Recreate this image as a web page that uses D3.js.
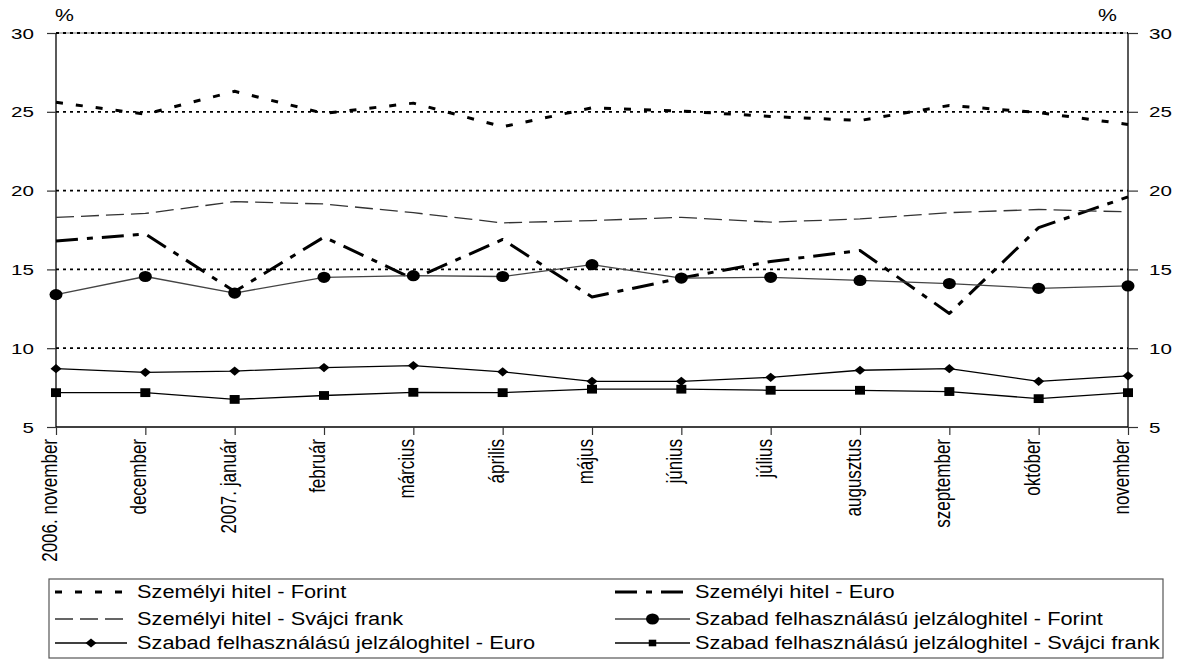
<!DOCTYPE html>
<html><head><meta charset="utf-8">
<script src="https://cdn.jsdelivr.net/npm/d3@7"></script>
<style>
body{margin:0;background:#fff}
svg{display:block}
text{font-family:"Liberation Sans",Arial,sans-serif;fill:#000}
</style>
</head><body>
<svg id="c" width="1184" height="659"></svg>
<script>
// ---- data ----
const categories = ["2006. november","december","2007. január","február","március","április","május","június","július","augusztus","szeptember","október","november"];
const szemelyiForint = [25.6, 24.85, 26.3, 24.9, 25.55, 24.05, 25.25, 25.05, 24.7, 24.45, 25.4, 24.95, 24.2];
const szemelyiEuro   = [16.8, 17.25, 13.6, 17.05, 14.4, 16.9, 13.25, 14.45, 15.5, 16.2, 12.2, 17.65, 19.6];
const szemelyiFrank  = [18.3, 18.55, 19.3, 19.15, 18.6, 17.95, 18.1, 18.3, 18.0, 18.2, 18.6, 18.8, 18.65];
const jelzalogForint = [13.4, 14.55, 13.5, 14.5, 14.6, 14.55, 15.3, 14.45, 14.5, 14.3, 14.1, 13.8, 13.95];
const jelzalogEuro   = [8.7, 8.47, 8.55, 8.77, 8.9, 8.5, 7.9, 7.9, 8.15, 8.6, 8.7, 7.9, 8.25];
const jelzalogFrank  = [7.18, 7.18, 6.75, 7.0, 7.2, 7.18, 7.4, 7.4, 7.33, 7.33, 7.25, 6.8, 7.18];
const yTicks = [5, 10, 15, 20, 25, 30];
const gridValues = [10, 15, 20, 25, 30];
const seriesNames = [
  "Személyi hitel - Forint",
  "Személyi hitel - Euro",
  "Személyi hitel - Svájci frank",
  "Szabad felhasználású jelzáloghitel - Forint",
  "Szabad felhasználású jelzáloghitel - Euro",
  "Szabad felhasználású jelzáloghitel - Svájci frank"
];
const unitLabel = "%";

// ---- setup ----
const svg = d3.select("#c");
const L = 56, R = 1128, T = 33, B = 427;
const x = d3.scalePoint().domain(categories).range([L, R]);
const y = d3.scaleLinear().domain([5, 30]).range([B, T]);

const series = [
  {name: seriesNames[0], values: szemelyiForint, stroke: "#000", width: 3, dash: "7,13", marker: null},
  {name: seriesNames[1], values: szemelyiEuro, stroke: "#000", width: 3, dash: "22,9,6,9", marker: null},
  {name: seriesNames[2], values: szemelyiFrank, stroke: "#333", width: 1.3, dash: "18,7", marker: null},
  {name: seriesNames[3], values: jelzalogForint, stroke: "#444", width: 1.3, dash: null, marker: "circle"},
  {name: seriesNames[4], values: jelzalogEuro, stroke: "#000", width: 1.3, dash: null, marker: "diamond"},
  {name: seriesNames[5], values: jelzalogFrank, stroke: "#000", width: 1.3, dash: null, marker: "square"}
];

// ---- gridlines ----
svg.append("line").attr("x1", L).attr("x2", R).attr("y1", y(30)).attr("y2", y(30))
  .attr("stroke", "#777").attr("stroke-width", 1);
svg.append("g").selectAll("line").data(gridValues).join("line")
  .attr("x1", L).attr("x2", R).attr("y1", d => y(d)).attr("y2", d => y(d))
  .attr("stroke", "#000").attr("stroke-width", 1.8).attr("stroke-dasharray", "3,4");

// ---- axes ----
const leftAxis = d3.axisLeft(y).tickValues(yTicks).tickSize(9).tickFormat("");
const rightAxis = d3.axisRight(y).tickValues(yTicks).tickSize(10).tickFormat("");
const bottomAxis = d3.axisBottom(x).tickSize(8).tickFormat("");
function styleAxis(g){
  g.select(".domain").attr("stroke", "#000").attr("stroke-width", 1.3);
  g.selectAll(".tick line").attr("stroke", "#333").attr("stroke-width", 1.2);
}
svg.append("g").attr("transform", `translate(${L},0)`).call(leftAxis).call(styleAxis)
  .select(".domain").attr("d", `M0,${T}V${B}`);
svg.append("g").attr("transform", `translate(${R},0)`).call(rightAxis).call(styleAxis)
  .select(".domain").attr("d", `M0,${T}V${B}`);
svg.append("g").attr("transform", `translate(0,${B})`).call(bottomAxis).call(styleAxis)
  .select(".domain").attr("d", `M${L},0H${R}`);

// y tick labels
svg.append("g").selectAll("text").data(yTicks).join("text")
  .attr("transform", d => `translate(34,${y(d)}) scale(1.33,1)`)
  .attr("text-anchor", "end").attr("dy", "0.36em").attr("font-size", 15.5)
  .text(d => d);
svg.append("g").selectAll("text").data(yTicks).join("text")
  .attr("transform", d => `translate(1149,${y(d)}) scale(1.33,1)`)
  .attr("text-anchor", "start").attr("dy", "0.36em").attr("font-size", 15.5)
  .text(d => d);
// unit labels
svg.append("text").attr("transform", "translate(55,21) scale(1.25,1)")
  .attr("font-size", 17).text(unitLabel);
svg.append("text").attr("transform", "translate(1098,21) scale(1.25,1)")
  .attr("font-size", 17).text(unitLabel);

// x labels
svg.append("g").selectAll("text").data(categories).join("text")
  .attr("transform", d => `translate(${x(d) + 1},439) scale(1.25,1) rotate(-90)`)
  .attr("text-anchor", "end").attr("font-size", 17)
  .text(d => d);

// ---- lines ----
const line = d3.line().x((d, i) => x(categories[i])).y(d => y(d));
series.forEach(s => {
  svg.append("path").datum(s.values)
    .attr("d", line).attr("fill", "none")
    .attr("stroke", s.stroke).attr("stroke-width", s.width)
    .attr("stroke-dasharray", s.dash)
    .attr("stroke-linejoin", "round");
});

function drawMarker(g, type, cx, cy, big){
  const k = big ? 1 : 0.75;
  if (type === "circle") {
    g.append("ellipse").attr("cx", cx).attr("cy", cy).attr("rx", 6.5 * k).attr("ry", 5.6 * k).attr("fill", "#000");
  } else if (type === "diamond") {
    const w = 5.5 * k, h = 4.6 * k;
    g.append("path").attr("d", `M${cx - w},${cy}L${cx},${cy - h}L${cx + w},${cy}L${cx},${cy + h}Z`).attr("fill", "#000");
  } else if (type === "square") {
    const w = 5 * k, h = 4.4 * k;
    g.append("rect").attr("x", cx - w).attr("y", cy - h).attr("width", 2 * w).attr("height", 2 * h).attr("fill", "#000");
  }
}
const mg = svg.append("g");
series.filter(s => s.marker).forEach(s => {
  s.values.forEach((v, i) => drawMarker(mg, s.marker, x(categories[i]), y(v), true));
});

// ---- legend ----
svg.append("rect").attr("x", 49).attr("y", 579).attr("width", 1114).attr("height", 79)
  .attr("fill", "none").attr("stroke", "#555").attr("stroke-width", 1.2);
const cols = [{sx: 55, ex: 127, tx: 137}, {sx: 615, ex: 690, tx: 695}];
const rows = [592, 619, 643];
const lg = svg.append("g");
series.forEach((s, i) => {
  const c = cols[i % 2], r = rows[Math.floor(i / 2)];
  lg.append("line").attr("x1", c.sx).attr("x2", c.ex).attr("y1", r).attr("y2", r)
    .attr("stroke", s.stroke).attr("stroke-width", s.width)
    .attr("stroke-dasharray", s.dash);
  if (s.marker) drawMarker(lg, s.marker, (c.sx + c.ex) / 2, r, s.marker !== "square");
  lg.append("text").attr("transform", `translate(${c.tx},${r}) scale(1.21,1)`)
    .attr("dy", "0.36em").attr("font-size", 18).text(s.name);
});
</script>
</body></html>
